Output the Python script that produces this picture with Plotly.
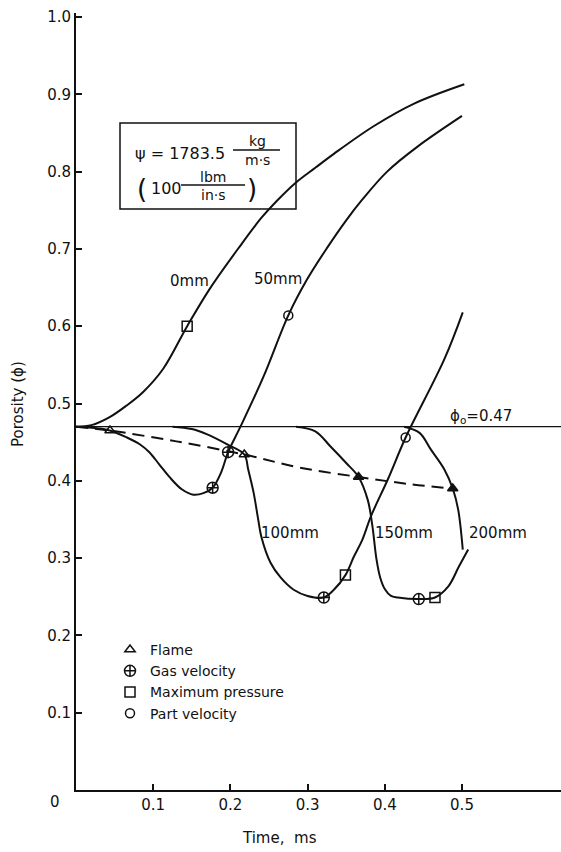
import plotly.graph_objects as go

# ---------------- data ----------------
x_0mm = [0.0, 0.02, 0.043, 0.065, 0.087, 0.113, 0.144, 0.173, 0.212, 0.240, 0.260, 0.285, 0.310, 0.334,
         0.386, 0.438, 0.503]
y_0mm = [0.470, 0.472, 0.482, 0.497, 0.515, 0.545, 0.600, 0.648, 0.703, 0.740, 0.762, 0.786, 0.805, 0.823,
         0.859, 0.888, 0.913]

x_50mm = [0.0, 0.04, 0.066, 0.083, 0.095, 0.108, 0.121, 0.137, 0.152, 0.165, 0.177, 0.188, 0.197, 0.213,
          0.243, 0.275, 0.299, 0.325, 0.350, 0.371, 0.403, 0.442, 0.500]
y_50mm = [0.470, 0.466, 0.456, 0.447, 0.437, 0.421, 0.405, 0.389, 0.382, 0.384, 0.391, 0.411, 0.437, 0.470,
          0.535, 0.614, 0.660, 0.701, 0.737, 0.764, 0.800, 0.832, 0.872]

x_100mm = [0.125, 0.150, 0.170, 0.196, 0.218, 0.223, 0.230, 0.236, 0.240, 0.252, 0.265, 0.282, 0.300, 0.321,
           0.334, 0.349, 0.360, 0.371, 0.382, 0.404, 0.427, 0.477, 0.501]
y_100mm = [0.470, 0.467, 0.460, 0.447, 0.434, 0.415, 0.385, 0.350, 0.328, 0.294, 0.275, 0.259, 0.251, 0.249,
           0.259, 0.278, 0.302, 0.324, 0.354, 0.402, 0.456, 0.557, 0.618]

x_150mm = [0.285, 0.310, 0.330, 0.350, 0.366, 0.378, 0.384, 0.389, 0.394, 0.400, 0.408, 0.417, 0.444, 0.465,
           0.482, 0.496, 0.508]
y_150mm = [0.470, 0.464, 0.444, 0.423, 0.405, 0.375, 0.341, 0.300, 0.275, 0.260, 0.251, 0.249, 0.247, 0.249,
           0.263, 0.289, 0.311]

x_200mm = [0.425, 0.445, 0.460, 0.477, 0.488, 0.495, 0.501]
y_200mm = [0.470, 0.462, 0.440, 0.415, 0.390, 0.363, 0.311]

x_flame_line = [0.0, 0.044, 0.130, 0.218, 0.290, 0.366, 0.430, 0.488]
y_flame_line = [0.470, 0.465, 0.451, 0.434, 0.417, 0.405, 0.396, 0.390]

flame_x = [0.044, 0.218, 0.366, 0.488]
flame_y = [0.465, 0.434, 0.405, 0.390]
gas_x = [0.177, 0.197, 0.321, 0.444]
gas_y = [0.391, 0.437, 0.249, 0.247]
pmax_x = [0.144, 0.349, 0.465]
pmax_y = [0.600, 0.278, 0.249]
part_x = [0.275, 0.427]
part_y = [0.614, 0.456]

phi0 = 0.47

x_ticks = [0.1, 0.2, 0.3, 0.4, 0.5]
x_ticklabels = ["0.1", "0.2", "0.3", "0.4", "0.5"]
y_ticks = [0.1, 0.2, 0.3, 0.4, 0.5, 0.6, 0.7, 0.8, 0.9, 1.0]
y_ticklabels = ["0.1", "0.2", "0.3", "0.4", "0.5", "0.6", "0.7", "0.8", "0.9", "1.0"]

curve_labels = ["0mm", "50mm", "100mm", "150mm", "200mm"]

# ---------------- layout helpers ----------------
W, H = 561, 852
ML, MR, MT, MB = 76, 0, 13, 62
PW, PH = W - ML - MR, H - MT - MB
X_SCALE = 772.0   # px per ms
Y_SCALE = 773.0   # px per unit porosity
X_MAX = PW / X_SCALE
Y_MAX = PH / Y_SCALE

FONT = "DejaVu Sans"
BLACK = "#111111"


def px(xp):
    return (xp - ML) / PW


def py(yp):
    return (H - MB - yp) / PH


fig = go.Figure()

line_style = dict(color=BLACK, width=2, shape="spline", smoothing=1.0)
for xs, ys in [(x_0mm, y_0mm), (x_50mm, y_50mm), (x_100mm, y_100mm),
               (x_150mm, y_150mm), (x_200mm, y_200mm)]:
    fig.add_trace(go.Scatter(x=xs, y=ys, mode="lines", line=line_style,
                             showlegend=False, hoverinfo="skip"))

fig.add_trace(go.Scatter(x=x_flame_line, y=y_flame_line, mode="lines",
                         line=dict(color=BLACK, width=2, dash="12px,7px", shape="spline"),
                         showlegend=False, hoverinfo="skip"))

mk_line = dict(color=BLACK, width=1.5)
fig.add_trace(go.Scatter(x=flame_x, y=flame_y, mode="markers", name="Flame",
                         marker=dict(symbol=["triangle-up-open", "triangle-up-open",
                                             "triangle-up", "triangle-up"],
                                     size=9, color=BLACK, line=mk_line)))
fig.add_trace(go.Scatter(x=gas_x, y=gas_y, mode="markers", name="Gas velocity",
                         marker=dict(symbol="circle-cross-open", size=11, color=BLACK, line=mk_line)))
fig.add_trace(go.Scatter(x=pmax_x, y=pmax_y, mode="markers", name="Maximum pressure",
                         marker=dict(symbol="square-open", size=10, color=BLACK, line=mk_line)))
fig.add_trace(go.Scatter(x=part_x, y=part_y, mode="markers", name="Part velocity",
                         marker=dict(symbol="circle-open", size=9, color=BLACK, line=mk_line)))

shapes = [
    dict(type="line", xref="paper", x0=0, x1=1, yref="y", y0=phi0, y1=phi0,
         line=dict(color=BLACK, width=1.3)),
    # info box
    dict(type="rect", xref="paper", yref="paper", x0=px(120), x1=px(296), y0=py(209), y1=py(123),
         line=dict(color=BLACK, width=1.5)),
    dict(type="line", xref="paper", yref="paper", x0=px(233), x1=px(280), y0=py(150), y1=py(150),
         line=dict(color=BLACK, width=1.3)),
    dict(type="line", xref="paper", yref="paper", x0=px(181), x1=px(245), y0=py(185), y1=py(185),
         line=dict(color=BLACK, width=1.3)),
]

ann = []


def text(xp, yp, s, size=15, xanchor="center", angle=0):
    ann.append(dict(xref="paper", yref="paper", x=px(xp), y=py(yp), text=s, showarrow=False,
                    xanchor=xanchor, yanchor="middle", textangle=angle,
                    font=dict(family=FONT, size=size, color=BLACK)))


# curve labels
text(189, 281, curve_labels[0])
text(278, 279, curve_labels[1])
text(290, 533, curve_labels[2])
text(404, 533, curve_labels[3])
text(498, 533, curve_labels[4])
text(448, 417, "ϕ<sub>o</sub>=0.47", xanchor="left")

# box contents
text(133, 154, "ψ = 1783.5", size=16, xanchor="left")
text(257, 141, "kg", size=14)
text(257, 160, "m·s", size=14)
text(142, 189, "(", size=26)
text(166, 189, "100", size=16)
text(213, 177, "lbm", size=14)
text(213, 195, "in·s", size=14)
text(252, 189, ")", size=26)

# axis titles and origin label
text(279, 838, "Time,  ms", size=15)
text(18, 404, "Porosity (ϕ)", size=15, angle=-90)
text(55, 802, "0", size=15)

fig.update_layout(
    width=W, height=H,
    margin=dict(l=ML, r=MR, t=MT, b=MB, pad=0),
    paper_bgcolor="white", plot_bgcolor="white",
    font=dict(family=FONT, size=14, color=BLACK),
    shapes=shapes, annotations=ann,
    showlegend=True,
    legend=dict(x=px(110), y=py(634), xanchor="left", yanchor="top",
                bgcolor="rgba(0,0,0,0)", borderwidth=0, tracegroupgap=0,
                font=dict(family=FONT, size=14, color=BLACK)),
    xaxis=dict(range=[0, X_MAX], showgrid=False, zeroline=False, showline=True,
               linecolor=BLACK, linewidth=2, ticks="inside", ticklen=6, tickwidth=1.5,
               tickcolor=BLACK, tickvals=x_ticks, ticktext=x_ticklabels,
               ticklabelposition="outside", ticklabelstandoff=0,
               tickfont=dict(family=FONT, size=15, color=BLACK)),
    yaxis=dict(range=[0, Y_MAX], showgrid=False, zeroline=False, showline=True,
               linecolor=BLACK, linewidth=2, ticks="inside", ticklen=6, tickwidth=1.5,
               tickcolor=BLACK, tickvals=y_ticks, ticktext=y_ticklabels,
               ticksuffix="\u2002\u2002",
               tickfont=dict(family=FONT, size=15, color=BLACK)),
)

fig.write_html("out.html", config={"displayModeBar": False},
               post_script="document.body.style.margin='0px';")
